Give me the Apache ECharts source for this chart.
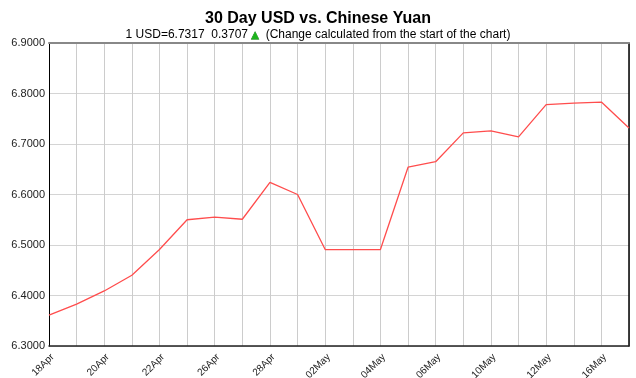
<!DOCTYPE html>
<html>
<head>
<meta charset="utf-8">
<script src="https://cdn.jsdelivr.net/npm/echarts@6/dist/echarts.min.js"></script>
<style>html,body{margin:0;padding:0;background:#fff;}#c{width:636px;height:378px;}</style>
</head>
<body>
<div id="c"></div>
<script>
const categories = ['18Apr','19Apr','20Apr','21Apr','22Apr','25Apr','26Apr','27Apr','28Apr','29Apr','02May','03May','04May','05May','06May','09May','10May','11May','12May','13May','16May','17May'];
const rates = [6.3610,6.3830,6.4090,6.4400,6.4910,6.5500,6.5550,6.5510,6.6240,6.6000,6.4910,6.4910,6.4910,6.6540,6.6650,6.7220,6.7260,6.7140,6.7780,6.7810,6.7830,6.7317];
const yTicks = { min: 6.3, max: 6.9, interval: 0.1 };
const titleText = '30 Day USD vs. Chinese Yuan';
const currentRate = '6.7317';
const changeText = '0.3707';
const noteText = '(Change calculated from the start of the chart)';

const FONT = 'Liberation Sans, Arial, sans-serif';
const chart = echarts.init(document.getElementById('c'), null, {renderer: 'canvas'});
chart.setOption({
  animation: false,
  backgroundColor: '#fff',
  title: [{
    text: titleText,
    left: 'center', top: 6,
    textStyle: {fontFamily: FONT, fontSize: 16, fontWeight: 'bold', color: '#000'}
  }, {
    text: '1 USD=' + currentRate + '  ' + changeText + ' {tri|▲}  ' + noteText,
    left: 'center', top: 24,
    textStyle: {fontFamily: FONT, fontSize: 12, fontWeight: 'normal', color: '#000',
      rich: {tri: {color: '#1db31d', fontSize: 10, fontWeight: 'normal', fontFamily: 'DejaVu Sans', textBorderColor: '#0a6a0a', textBorderWidth: 0.5}}}
  }],
  grid: {left: 49, right: 7, top: 43, bottom: 32, containLabel: false, outerBoundsMode: 'none'},
  xAxis: [{
    type: 'category', data: categories, boundaryGap: false,
    axisLine: {show: true, lineStyle: {color: '#222', width: 1.5}},
    axisTick: {show: false},
    axisLabel: {interval: 1, rotate: 45, margin: 6, verticalAlign: 'top', fontFamily: FONT, fontSize: 10, color: '#222'},
    splitLine: {show: true, interval: 0, lineStyle: {color: '#cccccc', width: 1}}
  }, {
    type: 'category', data: categories, boundaryGap: false, position: 'top',
    axisLine: {show: true, lineStyle: {color: '#888', width: 2}},
    axisTick: {show: false}, axisLabel: {show: false}, splitLine: {show: false}
  }],
  yAxis: [{
    type: 'value', min: yTicks.min, max: yTicks.max, interval: yTicks.interval,
    axisLine: {show: true, lineStyle: {color: '#000', width: 1}},
    axisTick: {show: false},
    axisLabel: {margin: 4, fontFamily: FONT, fontSize: 11, color: '#222',
      formatter: v => v.toFixed(4)},
    splitLine: {show: true, lineStyle: {color: '#d4d4d4', width: 1}}
  }, {
    type: 'value', min: yTicks.min, max: yTicks.max, interval: yTicks.interval, position: 'right',
    axisLine: {show: true, lineStyle: {color: '#000', width: 1.5}},
    axisTick: {show: false}, axisLabel: {show: false}, splitLine: {show: false}
  }],
  series: [{
    type: 'line', data: rates, xAxisIndex: 0, yAxisIndex: 0,
    symbol: 'none', smooth: false,
    lineStyle: {color: '#ff4d4d', width: 1.3}
  }]
});
</script>
</body>
</html>
